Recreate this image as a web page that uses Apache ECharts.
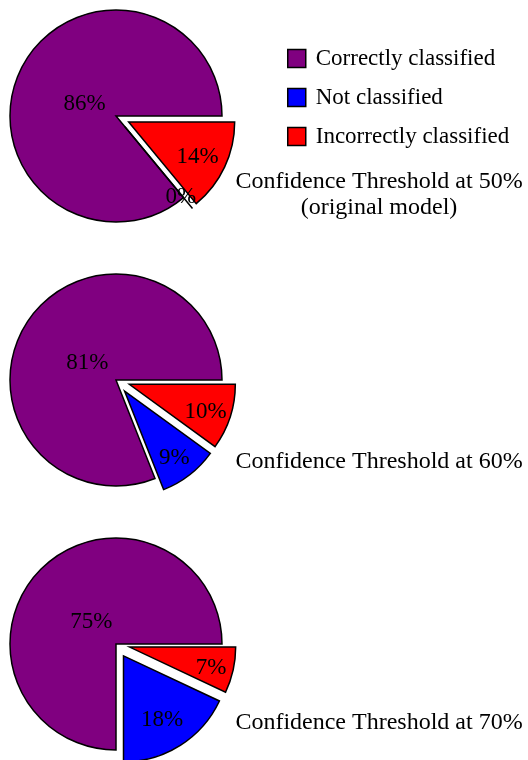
<!DOCTYPE html>
<html>
<head>
<meta charset="utf-8">
<style>
  html, body { margin: 0; padding: 0; background: #fff; }
  #main { width: 528px; height: 760px; }
</style>
<script src="https://cdn.jsdelivr.net/npm/echarts@6/dist/echarts.min.js"></script>
</head>
<body>
<div id="main"></div>
<script>
// data
const categories = ['Correctly classified', 'Not classified', 'Incorrectly classified'];
const threshold50 = [86, 0, 14];
const threshold60 = [81, 9, 10];
const threshold70 = [75, 18, 7];
const titles = [
  'Confidence Threshold at 50%\n(original model)',
  'Confidence Threshold at 60%',
  'Confidence Threshold at 70%'
];

const colors = ['#800080', '#0000ff', '#ff0000'];
const FONT = '"Liberation Serif", "Times New Roman", serif';
const R = 106;
const OFFSET = 14;
const centers = [[116, 116], [116, 380], [116, 644]];
const titleTops = [169, 449, 710];

// pgf-pie style label distance: move the "inside" label (at r/2) to the wanted radius
function labelOffset(values, i) {
  const total = values.reduce((a, b) => a + b, 0);
  let start = 0;
  for (let k = 0; k < i; k++) start += values[k] / total * 360;
  const span = values[i] / total * 360;
  const mid = (start + span / 2) * Math.PI / 180;
  const frac = 0.8 + Math.max(Math.min((span - 10) / 110 * -0.3, 0), -0.5);
  const d = (frac - 0.5) * R;
  return [d * Math.cos(mid), -d * Math.sin(mid) + 3];
}

function pie(values, idx) {
  return {
    type: 'pie',
    center: centers[idx],
    radius: R,
    startAngle: 0,
    clockwise: false,
    minAngle: 0,
    avoidLabelOverlap: false,
    selectedMode: 'multiple',
    selectedOffset: OFFSET,
    label: {
      position: 'inside',
      formatter: '{c}%',
      fontSize: 23,
      fontFamily: FONT,
      color: '#000'
    },
    labelLine: { show: false },
    itemStyle: { borderColor: '#000', borderWidth: 1.5, borderJoin: 'miter' },
    emphasis: { disabled: true },
    data: values.map((v, i) => {
      const off = labelOffset(values, i);
      return {
        name: categories[i],
        value: v,
        selected: i > 0,
        itemStyle: { color: colors[i] },
        label: { offset: off },
        select: { label: { offset: off } }
      };
    })
  };
}

const chart = echarts.init(document.getElementById('main'));
chart.setOption({
  animation: false,
  title: titles.map((t, i) => ({
    text: t,
    left: 379,
    top: titleTops[i],
    textAlign: 'center',
    padding: 0,
    textStyle: {
      fontSize: 24,
      fontWeight: 'normal',
      fontFamily: FONT,
      color: '#000',
      lineHeight: 26,
      align: 'center'
    }
  })),
  legend: {
    orient: 'vertical',
    left: 287,
    top: 47,
    padding: 0,
    itemWidth: 18,
    itemHeight: 18,
    itemGap: 16,
    icon: 'rect',
    selectedMode: false,
    data: categories,
    itemStyle: { borderColor: '#000', borderWidth: 1.5 },
    textStyle: {
      fontSize: 23,
      fontFamily: FONT,
      color: '#000',
      lineHeight: 23,
      padding: [0, 0, 0, 5]
    }
  },
  series: [pie(threshold50, 0), pie(threshold60, 1), pie(threshold70, 2)]
});
</script>
</body>
</html>
